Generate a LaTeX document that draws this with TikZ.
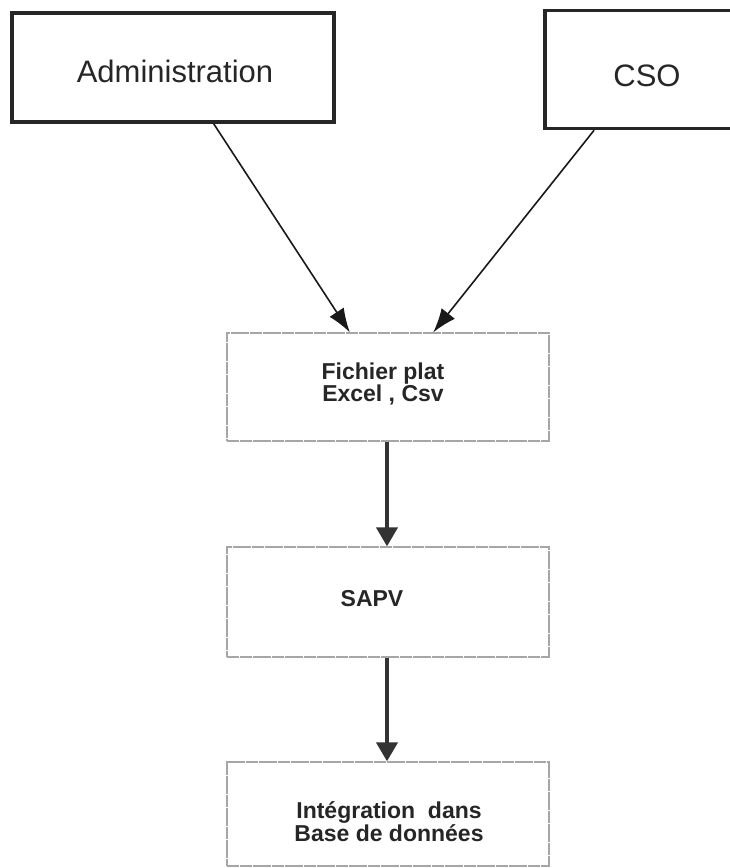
\documentclass[tikz,border=0pt]{standalone}
\usepackage{fontspec}
\setmainfont{Liberation Sans}
\usetikzlibrary{arrows.meta,calc}
\begin{document}
\begin{tikzpicture}[x=1pt,y=-1pt,
  topbox/.style={draw=black!85, line width=3.5pt, fill=white, inner sep=0pt},
  toptext/.style={font=\fontsize{31}{34}\selectfont, text=black!85},
  flowbox/.style={draw=black!35, line width=1.3pt, dash pattern=on 6pt off 0.4pt, minimum width=322pt, inner sep=0pt},
  flowtext/.style={align=center, font=\bfseries\fontsize{23}{21}\selectfont, text=black!85},
  diagarrow/.style={draw=black!90, line width=1.6pt, -{Latex[length=24pt,width=17pt]}},
  downarrow/.style={draw=black!80, line width=4pt, -{Triangle[length=19pt,width=21pt]}}
]
\useasboundingbox (0,0) rectangle (729,868);
\fill[white] (0,0) rectangle (729,868);

\node[topbox, minimum width=322pt, minimum height=109pt] (adm) at (173,67.5) {};
\node[toptext] (admt) at (175,71) {Administration};
\node[topbox, minimum width=204pt, minimum height=118pt] (cso) at (647,69.5) {};
\node[toptext] (csot) at (647,76) {CSO};

\node[flowbox, minimum height=108pt] (fic) at (388,387) {};
\node[flowtext] (fict) at (383,384) {Fichier plat\\Excel , Csv};

\node[flowbox, minimum height=110pt] (sapv) at (388,602) {};
\node[flowtext] (sapvt) at (372,599) {SAPV};

\node[flowbox, minimum height=104pt] (integ) at (388,814) {};
\node[flowtext] (integt) at (389,822) {Intégration\ \ dans\\Base de données};

\draw[diagarrow] ($(adm.south west)!0.625!(adm.south east)$) -- ($(fic.north west)!0.382!(fic.north east)$);
\draw[diagarrow] ($(cso.south west)!0.245!(cso.south east)$) -- ($(fic.north west)!0.64!(fic.north east)$);
\draw[downarrow] (fic.south -| 387,0) -- (sapv.north -| 387,0);
\draw[downarrow] (sapv.south -| 387,0) -- (integ.north -| 387,0);
\end{tikzpicture}
\end{document}
